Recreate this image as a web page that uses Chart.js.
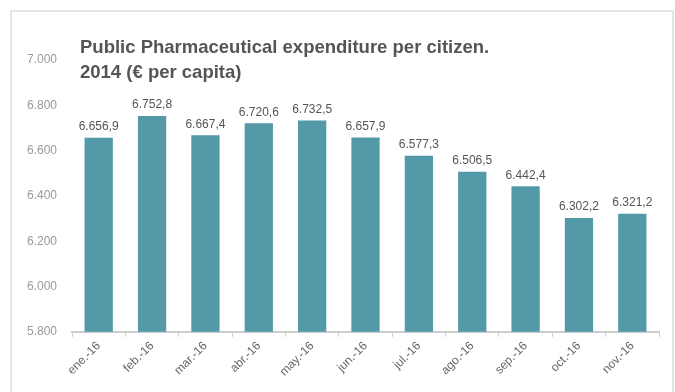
<!DOCTYPE html>
<html>
<head>
<meta charset="utf-8">
<script src="https://cdn.jsdelivr.net/npm/chart.js@4"></script>
<style>
  html, body { margin: 0; padding: 0; background: #fff; }
  #wrap { position: relative; width: 675px; height: 392px; }
</style>
</head>
<body>
<div id="wrap"><canvas id="myChart" width="675" height="392"></canvas></div>
<script>
const months = [
    'ene.-16', 'feb.-16', 'mar.-16', 'abr.-16', 'may.-16', 'jun.-16',
    'jul.-16', 'ago.-16', 'sep.-16', 'oct.-16', 'nov.-16',
];

const spending = [6656.9, 6752.8, 6667.4, 6720.6, 6732.5, 6657.9, 6577.3, 6506.5, 6442.4, 6302.2, 6321.2];

const titleLines = ['Public Pharmaceutical expenditure per citizen.', '2014 (€ per capita)'];

const yMin = 5800;
const yMax = 7000;
const yStep = 200;

const FONT = '"Liberation Sans", Arial, sans-serif';

// 6.656,9 style numbers
function fmt(v, decimals) {
    const parts = v.toFixed(decimals).split('.');
    parts[0] = parts[0].replace(/\B(?=(\d{3})+(?!\d))/g, '.');
    return parts.join(',');
}

const framePlugin = {
    id: 'frame',
    beforeDraw(chart) {
        const ctx = chart.ctx;
        ctx.save();
        ctx.fillStyle = '#fff';
        ctx.fillRect(0, 0, chart.width, chart.height);
        ctx.strokeStyle = '#e4e4e4';
        ctx.lineWidth = 2;
        ctx.strokeRect(11, 11, 662, 400);
        ctx.restore();
    }
};

const headingPlugin = {
    id: 'heading',
    afterDraw(chart) {
        const ctx = chart.ctx;
        ctx.save();
        ctx.fillStyle = '#555';
        ctx.font = 'bold 18.5px ' + FONT;
        ctx.textBaseline = 'middle';
        titleLines.forEach((line, i) => ctx.fillText(line, 80, 48 + i * 25));
        ctx.restore();
    }
};

const valueLabels = {
    id: 'valueLabels',
    afterDatasetsDraw(chart) {
        const ctx = chart.ctx;
        const meta = chart.getDatasetMeta(0);
        ctx.save();
        ctx.fillStyle = '#555';
        ctx.font = '12px ' + FONT;
        ctx.textAlign = 'center';
        ctx.textBaseline = 'bottom';
        meta.data.forEach((bar, i) => {
            ctx.fillText(fmt(spending[i], 1), bar.x, bar.y - 5);
        });
        ctx.restore();
    }
};

const data = {
    labels: months,
    datasets: [{
        data: spending,
        backgroundColor: '#5399a8',
        borderWidth: 0,
        barPercentage: 0.53,
        categoryPercentage: 1.0,
    }]
};

const config = {
    type: 'bar',
    data: data,
    plugins: [framePlugin, headingPlugin, valueLabels],
    options: {
        responsive: false,
        animation: false,
        layout: { padding: { left: 20, right: 16, top: 60, bottom: 11 } },
        plugins: {
            legend: { display: false },
            tooltip: { enabled: false },
        },
        scales: {
            x: {
                grid: {
                    display: true,
                    drawOnChartArea: false,
                    drawTicks: true,
                    tickLength: 5,
                    offset: true,
                    color: '#ccc',
                },
                border: { color: '#ccc', width: 2 },
                ticks: {
                    color: '#666',
                    font: { size: 12, family: FONT },
                    maxRotation: 45,
                    minRotation: 45,
                    padding: 2,
                },
            },
            y: {
                min: yMin,
                max: yMax,
                grid: { display: false },
                border: { display: false },
                ticks: {
                    stepSize: yStep,
                    color: '#999',
                    padding: 7,
                    font: { size: 12, family: FONT },
                    callback: (v) => fmt(v, 0),
                },
            },
        },
    },
};

const myChart = new Chart(document.getElementById('myChart'), config);
</script>
</body>
</html>
